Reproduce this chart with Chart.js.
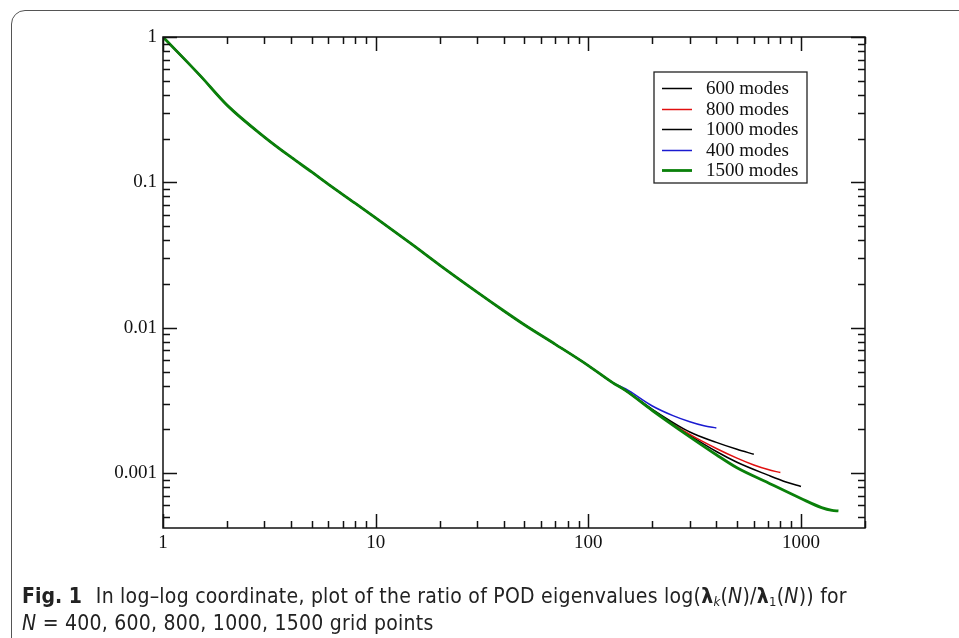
<!DOCTYPE html>
<html>
<head>
<meta charset="utf-8">
<script src="https://cdn.jsdelivr.net/npm/chart.js@4.4.0/dist/chart.umd.min.js"></script>
<style>
  html, body { margin: 0; padding: 0; background: #fff; overflow: hidden; }
  #frame {
    position: absolute; left: 11px; top: 10px;
    width: 1000px; height: 700px;
    border: 1.5px solid #555; border-radius: 14px;
  }
  #chart { position: absolute; left: 0; top: 0; }
  #caption {
    position: absolute; left: 22px; top: 583px;
    font-family: "Liberation Sans Narrow", "DejaVu Sans Condensed", sans-serif;
    font-size: 21px; letter-spacing: 0.25px; line-height: 27px; color: #222; white-space: nowrap;
  }
  #caption b.fig { margin-right: 14px; letter-spacing: 0; }
  #caption sub { font-size: 13px; vertical-align: -3px; line-height: 0; }
</style>
</head>
<body>
<div id="frame"></div>
<canvas id="chart" width="959" height="638"></canvas>
<div id="caption"><b class="fig">Fig. 1</b>In log–log coordinate, plot of the ratio of POD eigenvalues log(<b>λ</b><sub><i>k</i></sub>(<i>N</i>)/<b>λ</b><sub>1</sub>(<i>N</i>)) for<br><i>N</i> = 400, 600, 800, 1000, 1500 grid points</div>
<script>
// shared part of the eigenvalue ratio curve (all runs agree here)
const baseK = [1, 1.5, 2, 3, 4, 5, 6, 8, 10, 15, 20, 30, 40, 50, 70, 100, 130];
const baseV = [1, 0.54, 0.34, 0.205, 0.149, 0.118, 0.097, 0.072, 0.057, 0.037, 0.027, 0.0176, 0.0131, 0.0105, 0.0077, 0.0055, 0.0042];

// tails where the runs split apart
const k400 = [150, 200, 250, 300, 350, 400];
const v400 = [0.0038, 0.0029, 0.00249, 0.00226, 0.00212, 0.00205];
const k600 = [150, 200, 300, 400, 500, 600];
const v600 = [0.0037, 0.00275, 0.00192, 0.00163, 0.00146, 0.00135];
const k800 = [150, 200, 300, 400, 500, 600, 700, 800];
const v800 = [0.0037, 0.00272, 0.00185, 0.00148, 0.00127, 0.00114, 0.00106, 0.00101];
const k1000 = [150, 200, 300, 400, 500, 700, 850, 1000];
const v1000 = [0.0037, 0.0027, 0.00182, 0.00141, 0.00119, 0.00097, 0.00087, 0.00081];
const k1500 = [150, 200, 300, 400, 500, 700, 1000, 1250, 1400, 1500];
const v1500 = [0.0037, 0.0027, 0.00178, 0.00134, 0.00109, 0.00086, 0.00067, 0.00058, 0.000555, 0.00055];

const xTicks = [1, 10, 100, 1000];
const xTickLabels = ['1', '10', '100', '1000'];
const yTicks = [1, 0.1, 0.01, 0.001];
const yTickLabels = ['1', '0.1', '0.01', '0.001'];

function series(ks, vs) {
  const pts = baseK.map((k, i) => ({ x: k, y: baseV[i] }));
  ks.forEach((k, i) => pts.push({ x: k, y: vs[i] }));
  return pts;
}

const serif = '"Liberation Serif", "DejaVu Serif", serif';

// frame with inward major/minor ticks on all four sides
const frameTicks = {
  id: 'frameTicks',
  afterDatasetsDraw(chart) {
    const { ctx, chartArea: a, scales } = chart;
    const xs = scales.x, ys = scales.y;
    ctx.save();
    ctx.strokeStyle = '#111';
    ctx.lineWidth = 1.5;
    ctx.strokeRect(a.left, a.top, a.right - a.left, a.bottom - a.top);
    ctx.beginPath();
    for (let d = 1; d <= 1000; d *= 10) {
      for (let m = 1; m <= 9; m++) {
        const v = d * m;
        if (v < xs.min || v > xs.max) continue;
        const px = Math.round(xs.getPixelForValue(v)) + 0.5;
        const len = m === 1 ? 14 : 7;
        ctx.moveTo(px, a.bottom); ctx.lineTo(px, a.bottom - len);
        ctx.moveTo(px, a.top); ctx.lineTo(px, a.top + len);
      }
    }
    for (let d = 0.0001; d <= 1.0001; d *= 10) {
      for (let m = 1; m <= 9; m++) {
        const v = d * m;
        if (v < ys.min * 0.999 || v > ys.max * 1.001) continue;
        const py = Math.round(ys.getPixelForValue(v)) + 0.5;
        const len = m === 1 ? 14 : 7;
        ctx.moveTo(a.left, py); ctx.lineTo(a.left + len, py);
        ctx.moveTo(a.right, py); ctx.lineTo(a.right - len, py);
      }
    }
    ctx.stroke();
    ctx.restore();
  }
};

// boxed legend in the upper right of the plot
const boxLegend = {
  id: 'boxLegend',
  afterDraw(chart) {
    const { ctx, chartArea: a } = chart;
    const x0 = a.right - 211, y0 = a.top + 35, w = 153, h = 111, row = 20.6;
    ctx.save();
    ctx.fillStyle = '#fff';
    ctx.fillRect(x0, y0, w, h);
    ctx.strokeStyle = '#222';
    ctx.lineWidth = 1.3;
    ctx.strokeRect(x0, y0, w, h);
    ctx.font = '19px ' + serif;
    ctx.textBaseline = 'middle';
    chart.data.datasets.forEach((ds, i) => {
      const y = Math.round(y0 + 16 + i * row) + 0.5;
      ctx.strokeStyle = ds.borderColor;
      ctx.lineWidth = ds.borderWidth;
      ctx.beginPath();
      ctx.moveTo(x0 + 8, y); ctx.lineTo(x0 + 38, y);
      ctx.stroke();
      ctx.fillStyle = '#111';
      ctx.fillText(ds.label, x0 + 52, y + 1);
    });
    ctx.restore();
  }
};

new Chart(document.getElementById('chart'), {
  type: 'line',
  data: {
    datasets: [
      { label: '600 modes', data: series(k600, v600), borderColor: '#000000', borderWidth: 1.5 },
      { label: '800 modes', data: series(k800, v800), borderColor: '#e01010', borderWidth: 1.5 },
      { label: '1000 modes', data: series(k1000, v1000), borderColor: '#000000', borderWidth: 1.5 },
      { label: '400 modes', data: series(k400, v400), borderColor: '#1a1ad0', borderWidth: 1.5 },
      { label: '1500 modes', data: series(k1500, v1500), borderColor: '#0a800a', borderWidth: 2.8, order: -1 }
    ]
  },
  options: {
    responsive: false,
    animation: false,
    devicePixelRatio: 1,
    layout: { padding: { top: 37, right: 94, left: 0, bottom: 0 } },
    elements: {
      point: { radius: 0 },
      line: { tension: 0.3, cubicInterpolationMode: 'monotone', fill: false }
    },
    plugins: { legend: { display: false }, tooltip: { enabled: false } },
    scales: {
      x: {
        type: 'logarithmic',
        min: 1, max: 2000,
        grid: { display: false, drawTicks: false },
        border: { display: false },
        afterBuildTicks: (s) => { s.ticks = xTicks.map(v => ({ value: v })); },
        afterFit: (s) => { s.height = 110; },
        ticks: {
          autoSkip: false, maxRotation: 0, padding: 4, color: '#111',
          font: { family: serif, size: 19 },
          callback: (v, i) => xTickLabels[i]
        }
      },
      y: {
        type: 'logarithmic',
        min: 0.00042, max: 1,
        grid: { display: false, drawTicks: false },
        border: { display: false },
        afterBuildTicks: (s) => { s.ticks = yTicks.map(v => ({ value: v })); },
        afterFit: (s) => { s.width = 163; },
        ticks: {
          autoSkip: false, padding: 6, color: '#111',
          font: { family: serif, size: 19 },
          callback: (v, i) => yTickLabels[i]
        }
      }
    }
  },
  plugins: [frameTicks, boxLegend]
});
</script>
</body>
</html>
